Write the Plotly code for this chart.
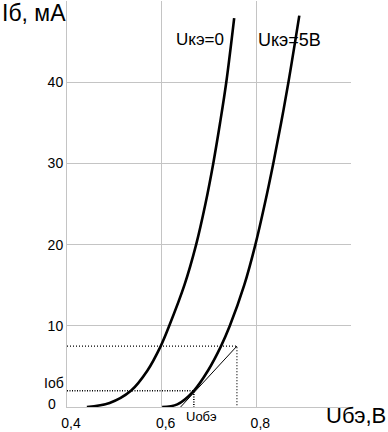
import plotly.graph_objects as go

# Uкэ = 0 curve
u_ke0_x = [0.442, 0.49, 0.535, 0.570, 0.598, 0.616, 0.648, 0.6728, 0.6924, 0.709, 0.7234, 0.7365, 0.7532]
u_ke0_y = [0.0, 0.5, 2.0, 4.5, 7.5, 10.0, 15.0, 20.0, 25.0, 30.0, 35.0, 40.0, 47.9]
# Uкэ = 5В curve
u_ke5_x = [0.601, 0.633, 0.668, 0.698, 0.7254, 0.744, 0.7744, 0.798, 0.8178, 0.8358, 0.8524, 0.8678, 0.8908]
u_ke5_y = [0.0, 0.33, 2.0, 4.5, 7.5, 10.0, 15.0, 20.0, 25.0, 30.0, 35.0, 40.0, 48.2]
# tangent line at operating point
tangent_x = [0.640, 0.759]
tangent_y = [0.0, 7.5]
# operating point and dotted helper lines
i0b = 2.0
u0be = 0.668
i_hi = 7.5
u_hi = 0.759

x_ticks = [0.4, 0.6, 0.8, 1.0]
x_ticktext = ["0,4", "0,6", "0,8", ""]
y_ticks = [0, 10, 20, 30, 40, 50]
y_ticktext = ["", "10", "20", "30", "40", ""]

FONT = "Liberation Sans, Arial, sans-serif"

fig = go.Figure()
for xs, ys in ((u_ke0_x, u_ke0_y), (u_ke5_x, u_ke5_y)):
    fig.add_trace(go.Scatter(x=xs, y=ys, mode="lines",
                             line=dict(color="black", width=2.6, shape="spline", smoothing=1.0),
                             hoverinfo="skip", showlegend=False))
fig.add_trace(go.Scatter(x=tangent_x, y=tangent_y, mode="lines",
                         line=dict(color="black", width=1),
                         hoverinfo="skip", showlegend=False))
# dotted helper lines
fig.add_trace(go.Scatter(x=[0.4, u_hi, u_hi], y=[i_hi, i_hi, 0], mode="lines",
                         line=dict(color="black", width=1.2, dash="1px,2px"),
                         hoverinfo="skip", showlegend=False))
fig.add_trace(go.Scatter(x=[0.4, u0be, u0be], y=[i0b, i0b, 0], mode="lines",
                         line=dict(color="black", width=1.6, dash="1px,1.5px"),
                         hoverinfo="skip", showlegend=False))

def px_x(p):
    return (p - 67) / 284

def px_y(p):
    return (407 - p) / 406

annotations = [
    dict(text="Iб, мА", xref="paper", yref="paper", x=px_x(0), y=px_y(13),
         xanchor="left", yanchor="middle", showarrow=False, font=dict(size=23, color="black", family=FONT)),
    dict(text="Uбэ,B", xref="paper", yref="paper", x=px_x(388), y=px_y(415),
         xanchor="right", yanchor="middle", showarrow=False, font=dict(size=22, color="black", family=FONT)),
    dict(text="Uкэ=0", x=0.681, y=45.2, xanchor="center", yanchor="middle", showarrow=False,
         font=dict(size=17, color="black", family=FONT)),
    dict(text="Uкэ=5B", x=0.870, y=45.2, xanchor="center", yanchor="middle", showarrow=False,
         font=dict(size=18, color="black", family=FONT)),
    dict(text="Iоб", xref="paper", yref="paper", x=px_x(42), y=px_y(383), xanchor="left", yanchor="middle",
         showarrow=False, font=dict(size=14, color="black", family=FONT)),
    dict(text="0", xref="paper", yref="paper", x=px_x(51.5), y=px_y(404), xanchor="center", yanchor="middle",
         showarrow=False, font=dict(size=14, color="black", family=FONT)),
    dict(text="Uобэ", xref="paper", yref="paper", x=px_x(201), y=px_y(416), xanchor="center", yanchor="middle",
         showarrow=False, font=dict(size=13, color="black", family=FONT)),
]

fig.update_layout(
    width=388, height=432,
    margin=dict(l=67, r=37, t=1, b=25),
    paper_bgcolor="white", plot_bgcolor="white",
    font=dict(family=FONT, color="black", size=14),
    annotations=annotations,
    showlegend=False,
)
fig.update_xaxes(range=[0.4, 1.0], tickvals=x_ticks, ticktext=x_ticktext,
                 showgrid=True, gridcolor="#c4c4c4", gridwidth=1,
                 showline=True, linecolor="#c4c4c4", linewidth=1, mirror=False,
                 zeroline=False, ticks="", tickfont=dict(size=14), fixedrange=True,
                 ticklabelstandoff=3, ticklabelshift=4)
fig.update_yaxes(range=[0, 50], tickvals=y_ticks, ticktext=y_ticktext,
                 showgrid=True, gridcolor="#c4c4c4", gridwidth=1,
                 showline=True, linecolor="#c4c4c4", linewidth=1,
                 zeroline=False, ticks="", tickfont=dict(size=14), fixedrange=True)

fig.write_html("out.html")
